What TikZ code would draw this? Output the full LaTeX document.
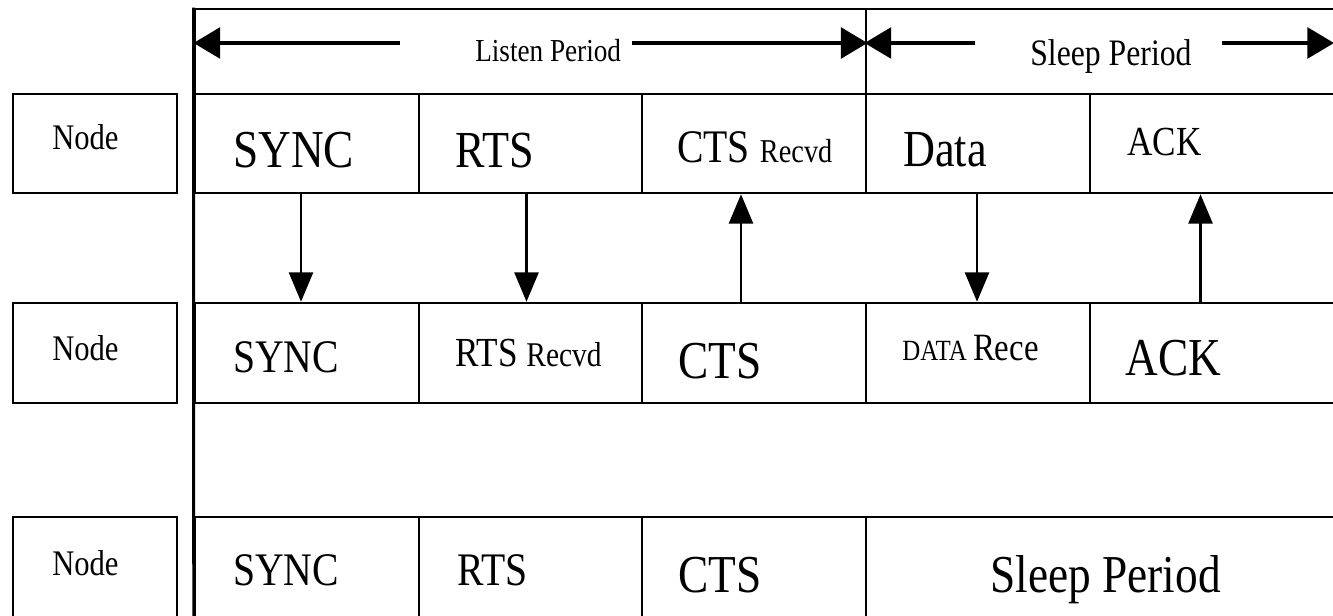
\documentclass[tikz,border=0pt]{standalone}
\usepackage{fontspec}
\setmainfont{Liberation Serif}[FakeStretch=0.85]
\usetikzlibrary{fit,calc,arrows.meta}
\newcommand{\fs}[1]{\fontsize{#1}{#1}\selectfont}
\begin{document}
\begin{tikzpicture}[x=0.75pt,y=-0.75pt,
  box/.style={draw, line width=1.9pt, inner sep=0pt},
  lbl/.style={anchor=base west, inner sep=0pt, text=black},
  msg/.style={line width=1.9pt, -{Triangle[length=22pt,width=18pt]}},
  span/.style={line width=3pt, -{Triangle[length=20pt,width=23pt]}}]
\useasboundingbox (0,0) rectangle (1333,616);
\clip (0,0) rectangle (1333,616);

% header: listen and sleep periods
\node[box, line width=2.2pt, fit={(195,9) (866,94)}] (lp) {};
\node[box, line width=2.2pt, fit={(866,9) (1345,94)}] (sp) {};

% node labels on the left
\node[box, fit={(13,94) (177,193)}] (n1) {};
\node[box, fit={(13,303) (177,403)}] (n2) {};
\node[box, fit={(13,517) (177,625)}] (n3) {};

% first row
\node[box, fit={(195,94) (419,193)}] (c11) {};
\node[box, fit={(419,94) (642,193)}] (c12) {};
\node[box, fit={(642,94) (866,193)}] (c13) {};
\node[box, fit={(866,94) (1090,193)}] (c14) {};
\node[box, fit={(1090,94) (1345,193)}] (c15) {};

% second row
\node[box, fit={(195,303) (419,403)}] (c21) {};
\node[box, fit={(419,303) (642,403)}] (c22) {};
\node[box, fit={(642,303) (866,403)}] (c23) {};
\node[box, fit={(866,303) (1090,403)}] (c24) {};
\node[box, fit={(1090,303) (1345,403)}] (c25) {};

% third row
\node[box, fit={(195,517) (419,625)}] (c31) {};
\node[box, fit={(419,517) (642,625)}] (c32) {};
\node[box, fit={(642,517) (866,625)}] (c33) {};
\node[box, fit={(866,517) (1345,625)}] (c34) {};

% continuous time axis on the left
\draw[line width=2.2pt] (lp.north west) -- (c31.south west);

% labels
\node[lbl] (lpt) at (475,62) {\fs{24}Listen Period};
\node[lbl] (spt) at (1030,66) {\fs{28}Sleep Period};

\node[lbl] (m1) at (52,150) {\fs{27}Node};
\node[lbl] (m2) at (52,360) {\fs{27}Node};
\node[lbl] (m3) at (52,575) {\fs{27}Node};

\node[lbl] (t11) at (233,168) {\fs{40}SYNC};
\node[lbl] (t12) at (455,168) {\fs{39}RTS};
\node[lbl] (t13) at (677,163) {\fs{35}CTS {\fs{25}Recvd}};
\node[lbl] (t14) at (903,167) {\fs{39}Data};
\node[lbl] (t15) at (1127,156) {\fs{31}ACK};

\node[lbl] (t21) at (233,372) {\fs{35}SYNC};
\node[lbl] (t22) at (455,366) {\fs{31}RTS {\fs{26}Recvd}};
\node[lbl] (t23) at (678,378) {\fs{40}CTS};
\node[lbl] (t24) at (902,360) {\fs{22}DATA {\fs{29}Rece}};
\node[lbl] (t25) at (1125,375) {\fs{40}ACK};

\node[lbl] (t31) at (233,585) {\fs{35}SYNC};
\node[lbl] (t32) at (457,585) {\fs{35}RTS};
\node[lbl] (t33) at (678,592) {\fs{40}CTS};
\node[lbl] (t34) at (990,592) {\fs{40}Sleep Period};

% period extent arrows
\coordinate (la) at (400,43);
\coordinate (ra) at (632,43);
\coordinate (lb) at (975,43);
\coordinate (rb) at (1222,43);
\coordinate (re) at (1334,43);
\draw[span] (la) -- (la -| lp.west);
\draw[span] (ra) -- (ra -| lp.east);
\draw[span] (lb) -- (lb -| sp.west);
\draw[span] (rb) -- (re);

% messages exchanged between the nodes
\draw[msg] ($(c11.south)+(-6,0)$) -- ($(c21.north)+(-6,0)$);
\draw[msg] ($(c12.south)+(-4,0)$) -- ($(c22.north)+(-4,0)$);
\draw[msg] ($(c23.north)+(-13,0)$) -- ($(c13.south)+(-13,0)$);
\draw[msg] ($(c14.south)+(-1,0)$) -- ($(c24.north)+(-1,0)$);
\draw[msg] ($(c25.north)+(-17,0)$) -- ($(c15.south)+(-17,0)$);
\end{tikzpicture}
\end{document}
